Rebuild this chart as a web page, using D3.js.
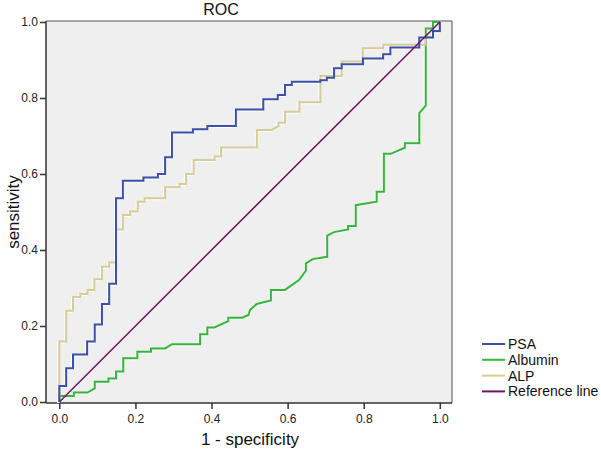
<!DOCTYPE html>
<html><head><meta charset="utf-8">
<script src="https://cdn.jsdelivr.net/npm/d3@7"></script>
<style>body{margin:0;background:#fff}svg{display:block;font-family:Arial,"Liberation Sans",sans-serif}</style>
</head><body><svg id="c" width="601" height="452"></svg>
<script>
// ---- data ----
const title = "ROC";
const xLabel = "1 - specificity";
const yLabel = "sensitivity";
const tickValues = [0, 0.2, 0.4, 0.6, 0.8, 1.0];
const seriesNames = ["PSA", "Albumin", "ALP", "Reference line"];
const seriesColors = ["#3b50a8", "#35b63a", "#d5cc96", "#6e1566"];

const psaFpr = [0,0,0.018,0.018,0.036,0.036,0.073,0.073,0.093,0.093,0.112,0.112,0.131,0.131,0.149,0.149,0.167,0.167,0.221,0.221,0.259,0.259,0.278,0.278,0.296,0.296,0.351,0.351,0.389,0.389,0.464,0.464,0.536,0.536,0.574,0.574,0.593,0.593,0.611,0.611,0.686,0.686,0.703,0.703,0.722,0.722,0.742,0.742,0.798,0.798,0.851,0.851,0.870,0.870,0.946,0.946,0.982,0.982,1,1];
const psaTpr = [0,0.042,0.042,0.089,0.089,0.125,0.125,0.159,0.159,0.204,0.204,0.258,0.258,0.311,0.311,0.536,0.536,0.582,0.582,0.591,0.591,0.600,0.600,0.644,0.644,0.709,0.709,0.718,0.718,0.726,0.726,0.770,0.770,0.797,0.797,0.808,0.808,0.834,0.834,0.843,0.843,0.847,0.847,0.853,0.853,0.878,0.878,0.889,0.889,0.904,0.904,0.915,0.915,0.933,0.933,0.959,0.959,0.976,0.976,1];

const albFpr = [0,0,0.038,0.038,0.074,0.093,0.093,0.129,0.129,0.149,0.149,0.168,0.168,0.205,0.205,0.241,0.241,0.278,0.296,0.370,0.370,0.389,0.389,0.408,0.444,0.444,0.481,0.497,0.501,0.519,0.556,0.556,0.593,0.630,0.648,0.648,0.666,0.704,0.704,0.722,0.759,0.759,0.779,0.779,0.834,0.834,0.853,0.853,0.871,0.908,0.908,0.946,0.946,0.963,0.963,0.982,0.982,1];
const albTpr = [0,0.016,0.016,0.025,0.025,0.036,0.053,0.053,0.062,0.062,0.080,0.080,0.115,0.115,0.132,0.132,0.141,0.141,0.152,0.152,0.178,0.178,0.196,0.196,0.213,0.222,0.222,0.229,0.242,0.258,0.267,0.295,0.295,0.321,0.346,0.365,0.376,0.382,0.438,0.447,0.454,0.463,0.463,0.518,0.527,0.553,0.553,0.653,0.653,0.669,0.681,0.681,0.760,0.780,0.983,0.983,1,1];

const alpFpr = [0,0,0.018,0.018,0.036,0.036,0.055,0.055,0.074,0.074,0.092,0.092,0.112,0.112,0.131,0.131,0.149,0.149,0.167,0.167,0.186,0.186,0.206,0.206,0.224,0.224,0.278,0.278,0.316,0.316,0.333,0.333,0.353,0.353,0.408,0.408,0.425,0.425,0.519,0.519,0.558,0.576,0.576,0.593,0.593,0.631,0.631,0.686,0.686,0.742,0.742,0.797,0.797,0.851,0.851,0.963,0.963,0.982,0.982,1,1];
const alpTpr = [0,0.159,0.159,0.240,0.240,0.276,0.276,0.284,0.284,0.295,0.295,0.323,0.323,0.356,0.356,0.367,0.367,0.454,0.454,0.492,0.492,0.501,0.501,0.527,0.527,0.536,0.536,0.565,0.565,0.574,0.574,0.600,0.600,0.637,0.637,0.646,0.646,0.670,0.670,0.716,0.716,0.726,0.735,0.735,0.764,0.764,0.789,0.789,0.858,0.858,0.896,0.896,0.931,0.931,0.940,0.940,0.960,0.960,0.975,0.975,1];

const refFpr = [0, 1];
const refTpr = [0, 1];

// ---- chart ----
const svg = d3.select("#c");
const x = d3.scaleLinear().domain([-0.035, 1.032]).range([46, 452]);
const y = d3.scaleLinear().domain([0, 1]).range([402, 22]);
const fmt = d3.format(".1f");

// plot background
svg.append("rect").attr("x", x(-0.035)).attr("y", 21).attr("width", x(1.032) - x(-0.035)).attr("height", 403 - 21).attr("fill", "#efefef");

// frame top/right
svg.append("line").attr("x1", 46).attr("x2", 452).attr("y1", 21).attr("y2", 21).attr("stroke", "#555").attr("stroke-width", 1);
svg.append("line").attr("x1", 452).attr("x2", 452).attr("y1", 21).attr("y2", 403).attr("stroke", "#555").attr("stroke-width", 1);

// axes
const xAxis = d3.axisBottom(x).tickValues(tickValues).tickFormat(fmt).tickSize(6).tickSizeOuter(0);
const yAxis = d3.axisLeft(y).tickValues(tickValues).tickFormat(fmt).tickSize(6).tickSizeOuter(0);
const gx = svg.append("g").attr("transform", "translate(0,403)").call(xAxis);
const gy = svg.append("g").attr("transform", "translate(46,0)").call(yAxis);
gx.select(".domain").attr("d", `M46,0H452`).attr("stroke", "#333").attr("stroke-width", 1.5);
gy.select(".domain").attr("d", `M0,21V403`).attr("stroke", "#333").attr("stroke-width", 1.5);
[gx, gy].forEach(g => {
  g.selectAll(".tick line").attr("stroke", "#333").attr("stroke-width", 1.5);
  g.selectAll(".tick text").attr("font-size", 12).attr("fill", "#222").attr("font-family", "Arial, 'Liberation Sans', sans-serif");
});
gx.selectAll(".tick text").attr("dy", "0.95em");
gy.selectAll(".tick text").attr("x", -8);

// series
const seriesData = [
  d3.zip(psaFpr, psaTpr),
  d3.zip(albFpr, albTpr),
  d3.zip(alpFpr, alpTpr),
  d3.zip(refFpr, refTpr)
];
const line = d3.line().x(d => x(d[0])).y(d => y(d[1]));
const drawOrder = [1, 2, 0, 3];
drawOrder.forEach(i => {
  if (i !== 3) {
    svg.append("path").attr("d", line(seriesData[i])).attr("fill", "none")
      .attr("stroke", "#fff").attr("stroke-width", 2).attr("transform", "translate(-1,1)");
  }
});
drawOrder.forEach(i => {
  svg.append("path").attr("d", line(seriesData[i])).attr("fill", "none")
    .attr("stroke", seriesColors[i]).attr("stroke-width", i === 3 ? 1.5 : 2)
    .attr("stroke-linejoin", "miter");
});

// title and axis labels
svg.append("text").attr("x", 221).attr("y", 15).attr("text-anchor", "middle").attr("font-size", 16).attr("fill", "#111").text(title);
svg.append("text").attr("x", 250).attr("y", 445).attr("text-anchor", "middle").attr("font-size", 17).attr("fill", "#111").text(xLabel);
svg.append("text").attr("transform", "translate(19,212) rotate(-90)").attr("text-anchor", "middle").attr("font-size", 17).attr("fill", "#111").text(yLabel);

// legend
const lg = svg.append("g");
seriesNames.forEach((n, i) => {
  const yy = 344 + i * 15.8;
  lg.append("line").attr("x1", 482).attr("x2", 505).attr("y1", yy).attr("y2", yy).attr("stroke", seriesColors[i]).attr("stroke-width", 2);
  lg.append("text").attr("x", 508).attr("y", yy + 5).attr("font-size", 14).attr("fill", "#111").text(n);
});
</script></body></html>
